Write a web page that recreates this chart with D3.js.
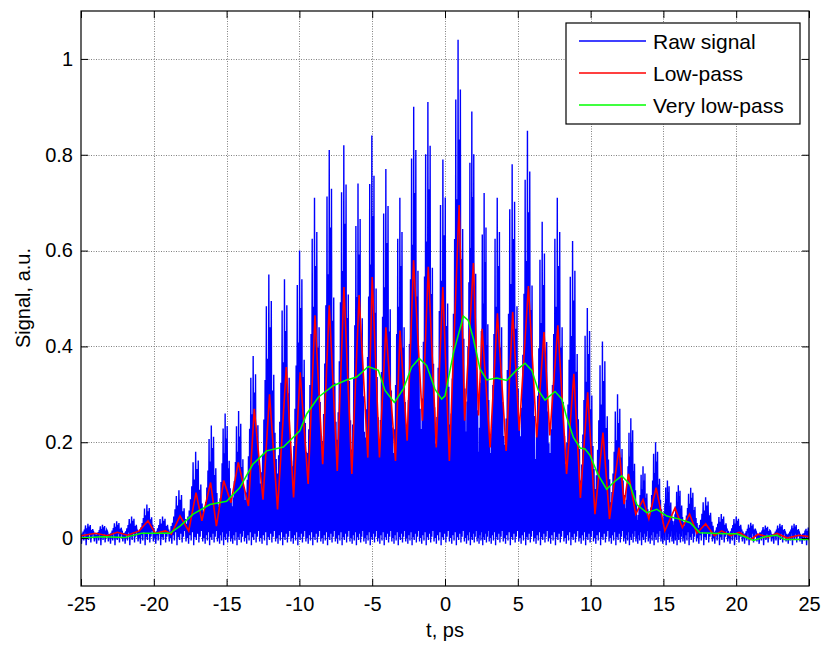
<!DOCTYPE html>
<html>
<head>
<meta charset="utf-8">
<script src="https://cdn.jsdelivr.net/npm/d3@7"></script>
<style>
  body { margin: 0; background: #fff; }
  text { font-family: "Liberation Sans", Arial, sans-serif; }
</style>
</head>
<body>
<div id="chartDiv"></div>
<script>
let w = 821
let h = 649
let plotLeft = 81, plotRight = 809, plotTop = 11, plotBottom = 586

// Raw signal: fringe centres (ps) and peak heights
let fringeT = [-24.5, -23.5, -22.6, -21.5, -20.5, -19.4, -18.3, -17.1, -16.0, -15.1,
  -14.2, -13.2, -12.1, -11.0, -10.0, -8.95, -7.95, -6.95, -5.95, -5.05,
  -4.05, -3.1, -2.15, -1.2, -0.15, 0.92, 1.9, 2.65, 3.55, 4.6,
  5.7, 6.65, 7.7, 8.8, 9.75, 10.8, 11.9, 12.8, 13.55, 14.5,
  15.3, 16.0, 16.8, 17.9, 19.0, 20.0, 21.0, 22.0, 23.0, 24.0, 24.9]
let fringePeak = [0.03, 0.028, 0.035, 0.045, 0.07, 0.045, 0.10, 0.18, 0.235, 0.26,
  0.265, 0.38, 0.55, 0.54, 0.60, 0.71, 0.81, 0.82, 0.74, 0.84,
  0.77, 0.71, 0.90, 0.91, 0.79, 1.04, 0.89, 0.72, 0.71, 0.78,
  0.85, 0.66, 0.71, 0.62, 0.48, 0.41, 0.30, 0.25, 0.15, 0.20,
  0.12, 0.11, 0.105, 0.085, 0.05, 0.045, 0.032, 0.026, 0.03, 0.03, 0.022]
// relative spike heights across one fringe (ragged top), and the low samples between spikes
let pulseShape = [0.25, 0.32, 0.45, 0.6, 0.88, 0.68, 1.0, 0.8, 0.9, 0.56, 0.62, 0.4, 0.3]
let baseNoise = [0.0, -0.012, 0.006, -0.005, 0.012, -0.015, 0.002, -0.004, 0.009, -0.009, 0.003, 0.015, -0.007]

// Low-pass (red)
let lowT = [-25, -24, -23.2, -22.5, -21.8, -21, -20.4, -19.9, -19.2, -18.8, -18.2, -17.6, -17.1, -16.7,
  -16.1, -15.7, -15.2, -14.7, -14.2, -13.5, -13.1, -12.5, -12.05, -11.5, -10.9, -10.4, -9.95, -9.4,
  -8.93, -8.4, -7.95, -7.4, -6.94, -6.4, -5.9, -5.3, -5.0, -4.5, -4.06, -3.4, -3.09, -2.6,
  -2.16, -1.55, -1.15, -0.6, -0.15, 0.3, 0.97, 1.35, 1.95, 2.3, 2.55, 3.1, 3.6, 4.2,
  4.65, 5.1, 5.73, 6.3, 6.8, 7.2, 7.75, 8.35, 8.85, 9.3, 9.8, 10.3, 10.85, 11.3,
  11.95, 12.3, 12.6, 13.1, 13.6, 14.0, 14.5, 15.1, 15.8, 16.3, 16.8, 17.3, 17.9, 18.5,
  19.0, 19.6, 20.2, 21, 21.5, 22.2, 22.8, 23.5, 24.3, 25]
let lowV = [0.005, 0.01, 0.005, 0.012, 0.006, 0.015, 0.036, 0.01, 0.015, 0.008, 0.046, 0.015, 0.095, 0.036,
  0.116, 0.025, 0.12, 0.074, 0.158, 0.067, 0.27, 0.08, 0.30, 0.06, 0.357, 0.085, 0.346, 0.113,
  0.465, 0.154, 0.486, 0.14, 0.524, 0.134, 0.507, 0.168, 0.545, 0.168, 0.44, 0.161, 0.433, 0.203,
  0.58, 0.245, 0.566, 0.189, 0.524, 0.161, 0.695, 0.245, 0.574, 0.256, 0.437, 0.189, 0.469, 0.182,
  0.472, 0.224, 0.526, 0.21, 0.43, 0.214, 0.444, 0.134, 0.343, 0.084, 0.304, 0.05, 0.22, 0.04,
  0.189, 0.071, 0.134, 0.05, 0.08, 0.04, 0.105, 0.015, 0.063, 0.022, 0.05, 0.01, 0.03, 0.005,
  0.015, 0.005, 0.012, -0.003, 0.008, 0.002, 0.01, 0.0, 0.006, 0.003]

// Very low-pass (green)
let veryLowT = [-25, -23.5, -22, -20.85, -18.9, -18.2, -17.3, -16.15, -15.0, -14.1, -13.2, -12.25, -11.1,
  -9.97, -9.5, -8.7, -7.68, -6.76, -6.07, -5.27, -4.58, -4.12, -3.48, -2.87, -2.29, -1.77, -1.26,
  -0.69, -0.23, 0, 0.57, 1.26, 1.6, 1.95, 2.4, 2.87, 3.55, 4.24, 4.93, 5.5, 5.96, 6.41, 6.87,
  7.56, 8.02, 8.36, 8.82, 9.28, 9.62, 9.97, 10.5, 11.1, 11.57, 12.14, 12.7, 13.17, 13.86, 14.55,
  15.24, 16.15, 16.84, 17.5, 19.2, 20.05, 21.2, 22.1, 22.8, 23.3, 25]
let veryLowV = [0.0, 0.003, 0.001, 0.01, 0.01, 0.025, 0.05, 0.07, 0.077, 0.105, 0.154, 0.182, 0.19,
  0.224, 0.259, 0.294, 0.318, 0.33, 0.336, 0.358, 0.35, 0.308, 0.283, 0.311, 0.357, 0.375, 0.36,
  0.311, 0.29, 0.297, 0.385, 0.463, 0.454, 0.416, 0.353, 0.33, 0.334, 0.329, 0.351, 0.365, 0.35, 0.308, 0.288,
  0.306, 0.29, 0.252, 0.21, 0.188, 0.186, 0.172, 0.133, 0.102, 0.116, 0.13, 0.112, 0.07, 0.053, 0.06,
  0.046, 0.039, 0.032, 0.011, 0.009, 0.009, -0.005, 0.004, 0.006, -0.003, -0.003]

let xTicks = [-25, -20, -15, -10, -5, 0, 5, 10, 15, 20, 25]
let yTicks = [0, 0.2, 0.4, 0.6, 0.8, 1]
let legendNames = ["Raw signal", "Low-pass", "Very low-pass"]
let legendColors = ["#0000ff", "#ff0000", "#00ff00"]

let svg = d3.select("#chartDiv")
  .append("svg")
  .attr("width", w)
  .attr("height", h)

let x = d3.scaleLinear().domain([-25, 25]).range([plotLeft, plotRight])
let y = d3.scaleLinear().domain([-0.1, 1.1]).range([plotBottom, plotTop])

svg.append("clipPath").attr("id", "plotClip")
  .append("rect")
  .attr("x", plotLeft).attr("y", plotTop)
  .attr("width", plotRight - plotLeft).attr("height", plotBottom - plotTop)

// grid
let grid = svg.append("g")
  .attr("stroke", "#808080")
  .attr("stroke-width", 1)
  .attr("stroke-dasharray", "1,1.5")
grid.selectAll(".gx").data(xTicks.slice(1, -1)).enter().append("line")
  .attr("x1", d => Math.round(x(d)) + 0.5).attr("x2", d => Math.round(x(d)) + 0.5)
  .attr("y1", plotTop).attr("y2", plotBottom)
grid.selectAll(".gy").data(yTicks).enter().append("line")
  .attr("x1", plotLeft).attr("x2", plotRight)
  .attr("y1", d => Math.round(y(d)) + 0.5).attr("y2", d => Math.round(y(d)) + 0.5)

// build raw zig-zag from fringes
let rawPoints = []
let n = 0
fringeT.forEach((t, i) => {
  let a = i == 0 ? t - 0.55 : (fringeT[i - 1] + t) / 2
  let b = i == fringeT.length - 1 ? t + 0.55 : (t + fringeT[i + 1]) / 2
  let step = (b - a) / pulseShape.length
  pulseShape.forEach((s, k) => {
    let tt = a + (k + 0.5) * step
    rawPoints.push([tt - step / 2, baseNoise[n % baseNoise.length]])
    rawPoints.push([tt, fringePeak[i] * s])
    n++
  })
})

let line = d3.line().x(d => x(d[0])).y(d => y(d[1]))
let plot = svg.append("g").attr("clip-path", "url(#plotClip)")

plot.append("path")
  .datum(rawPoints)
  .attr("d", line)
  .attr("fill", "none")
  .attr("stroke", legendColors[0])
  .attr("stroke-width", 1.4)

plot.append("path")
  .datum(lowT.map((t, i) => [t, lowV[i]]))
  .attr("d", line)
  .attr("fill", "none")
  .attr("stroke", legendColors[1])
  .attr("stroke-width", 1.6)

plot.append("path")
  .datum(veryLowT.map((t, i) => [t, veryLowV[i]]))
  .attr("d", line)
  .attr("fill", "none")
  .attr("stroke", legendColors[2])
  .attr("stroke-width", 1.5)

// axes, ticks pointing inward on all four sides
let axisStyle = g => {
  g.select(".domain").remove()
  g.selectAll("line").attr("stroke", "#000")
  g.selectAll("text").attr("font-size", 20).attr("fill", "#000")
    .style("font-family", '"Liberation Sans", Arial, sans-serif')
}
let plainLabel = d => String(d)

svg.append("g")
  .attr("transform", "translate(0," + plotBottom + ")")
  .call(d3.axisBottom(x).tickValues(xTicks).tickSizeInner(-7).tickSizeOuter(0).tickPadding(11).tickFormat(plainLabel))
  .call(axisStyle)
svg.append("g")
  .attr("transform", "translate(0," + plotTop + ")")
  .call(d3.axisTop(x).tickValues(xTicks).tickSizeInner(-7).tickSizeOuter(0).tickFormat(""))
  .call(axisStyle)
svg.append("g")
  .attr("transform", "translate(" + plotLeft + ",0)")
  .call(d3.axisLeft(y).tickValues(yTicks).tickSizeInner(-7).tickSizeOuter(0).tickPadding(8).tickFormat(plainLabel))
  .call(axisStyle)
svg.append("g")
  .attr("transform", "translate(" + plotRight + ",0)")
  .call(d3.axisRight(y).tickValues(yTicks).tickSizeInner(-7).tickSizeOuter(0).tickFormat(""))
  .call(axisStyle)

svg.append("rect")
  .attr("x", plotLeft).attr("y", plotTop)
  .attr("width", plotRight - plotLeft).attr("height", plotBottom - plotTop)
  .attr("fill", "none")
  .attr("stroke", "#000")
  .attr("stroke-width", 1.2)

// axis labels
svg.append("text")
  .attr("x", (plotLeft + plotRight) / 2)
  .attr("y", 637)
  .attr("text-anchor", "middle")
  .attr("font-size", 20)
  .text("t, ps")

svg.append("text")
  .attr("transform", "translate(30,298) rotate(-90)")
  .attr("text-anchor", "middle")
  .attr("font-size", 20)
  .text("Signal, a.u.")

// legend
let legend = svg.append("g")
legend.append("rect")
  .attr("x", 566).attr("y", 23)
  .attr("width", 234).attr("height", 101)
  .attr("fill", "#fff")
  .attr("stroke", "#000")
  .attr("stroke-width", 1.2)

legendNames.forEach((name, i) => {
  let ly = 41 + i * 32
  legend.append("line")
    .attr("x1", 579).attr("x2", 646)
    .attr("y1", ly).attr("y2", ly)
    .attr("stroke", legendColors[i])
    .attr("stroke-width", 1.3)
  legend.append("text")
    .attr("x", 653).attr("y", ly)
    .attr("dy", "0.36em")
    .attr("font-size", 21)
    .text(name)
})
</script>
</body>
</html>
